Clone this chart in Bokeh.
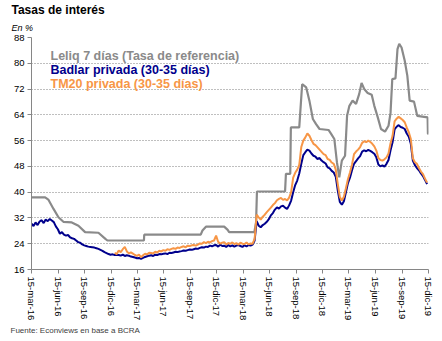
import pandas as pd
from bokeh.plotting import figure
from bokeh.models import FixedTicker, Label, Range1d, Title
from bokeh.embed import file_html
from bokeh.resources import INLINE

# ---------------- data ----------------
badlar_start = "2016-03-15"   # weekly observations
badlar = [
    30.2, 29.5, 30.6, 29.8, 30.9, 31.3, 30.4, 31.5, 31.0, 31.7,
    31.2, 30.7, 29.4, 28.5, 27.1, 27.6, 26.8, 26.5, 26.7, 26.0,
    25.7, 25.5, 25.0, 24.5, 24.3, 23.8, 23.5, 23.3, 23.1, 23.0,
    22.9, 22.8, 22.6, 22.4, 22.1, 21.8, 21.4, 21.1, 20.8, 20.6,
    20.7, 20.5, 20.6, 20.5, 20.3, 20.6, 20.2, 20.4, 20.3, 20.0,
    19.9, 19.7, 19.5, 19.6, 19.3, 19.6, 19.9, 20.1, 20.3, 20.4,
    20.2, 20.6, 20.5, 20.8, 20.7, 20.9, 21.0, 20.8, 21.2, 21.1,
    21.3, 21.5, 21.4, 21.6, 21.7, 21.9, 21.8, 22.0, 22.2, 22.1,
    22.3, 22.5, 22.4, 22.7, 22.9, 22.8, 23.1, 23.0, 23.4, 23.2,
    23.5, 23.6, 23.1, 23.7, 23.3, 23.4, 23.0, 23.6, 23.2, 23.5,
    23.1, 23.4, 23.6, 23.3, 23.0, 23.5, 23.2, 23.6, 23.4, 23.7,
    25.0, 31.0, 29.6, 29.1, 29.8, 30.2, 30.8, 31.6, 32.8, 33.5,
    34.6, 35.3, 34.9, 35.6, 35.8, 35.2, 34.8, 35.9, 37.4, 40.0,
    42.2, 43.6, 45.8, 48.8, 51.5, 52.4, 53.2, 52.9, 52.0, 51.3,
    51.0, 50.3, 50.6, 49.8, 49.3, 48.9, 47.7, 47.4, 46.6, 46.1,
    44.8, 40.5, 37.0, 36.1, 37.2, 40.0, 42.8, 44.5, 46.8, 48.8,
    49.6, 50.5, 51.2, 52.6, 53.0, 52.7, 53.1, 52.8, 52.4, 51.9,
    50.8, 48.6, 48.0, 48.3, 47.9, 48.8, 50.0, 53.0, 55.5, 59.5,
    60.3, 60.8, 60.2, 60.0, 59.6, 58.2, 57.2, 55.0, 49.8, 48.4,
    47.5, 46.8, 45.8, 45.0, 43.8, 42.5,
]

tm20_start = "2016-12-27"     # weekly observations
tm20 = [
    21.2, 20.8, 21.9, 21.4, 22.3, 23.0, 21.6, 21.0, 21.3,
    20.9, 20.5, 20.2, 20.6, 19.8, 20.4, 20.9, 20.7, 21.2, 21.1,
    21.0, 21.5, 21.3, 21.8, 21.6, 22.0, 21.8, 22.3, 22.1, 22.4,
    22.6, 22.4, 22.8, 22.7, 23.0, 23.2, 22.9, 23.4, 23.3, 23.5,
    23.6, 23.4, 23.7, 24.1, 24.0, 24.5, 24.2, 24.6, 24.4, 24.8,
    25.0, 26.5, 24.6, 24.0, 24.3, 24.5, 23.8, 24.2, 24.0, 24.4,
    23.9, 24.2, 23.7, 24.3, 24.0, 23.9, 24.4, 23.8, 24.1, 24.0,
    25.5, 33.0, 32.2, 31.5, 32.4, 33.0, 33.8, 34.5, 35.2, 36.0,
    36.6, 37.5, 37.9, 38.2, 37.6, 37.9, 37.4, 38.3, 40.0, 44.5,
    46.0, 47.0, 48.5, 54.0, 56.0, 57.0, 58.2, 57.5, 56.2, 55.0,
    54.6, 53.9, 53.2, 52.5, 51.8, 51.5, 50.3, 50.0, 49.2, 48.8,
    47.0, 42.5, 38.5, 37.4, 38.6, 41.2, 44.0, 46.1, 48.5, 51.8,
    52.6, 53.2, 54.0, 55.3, 55.8, 55.5, 56.0, 55.6, 55.0, 54.2,
    52.9, 50.6, 50.0, 49.8, 50.2, 50.8, 52.0, 55.2, 57.5, 62.0,
    62.8, 63.4, 62.9, 62.4, 61.7, 60.0, 58.6, 56.5, 50.5, 49.3,
    48.8, 47.5, 46.4, 45.6, 44.2, 43.0,
]

leliq_dates = [
    "2016-03-15", "2016-05-01", "2016-05-12", "2016-05-30", "2016-06-16",
    "2016-07-03", "2016-08-01", "2016-08-24", "2016-09-16", "2016-11-01",
    "2016-11-25", "2016-12-02", "2017-04-07", "2017-04-08", "2017-10-20",
    "2017-10-26", "2017-11-07", "2018-01-09", "2018-01-21", "2018-01-26",
    "2018-04-23", "2018-04-29", "2018-05-02", "2018-08-07", "2018-08-10",
    "2018-08-25", "2018-08-27", "2018-09-25", "2018-10-05", "2018-10-19",
    "2018-10-30", "2018-11-11", "2018-11-22", "2018-12-04", "2019-01-04",
    "2019-01-13", "2019-01-24", "2019-02-02", "2019-02-10", "2019-02-19",
    "2019-03-02", "2019-03-09", "2019-03-17", "2019-03-28", "2019-04-09",
    "2019-04-20", "2019-04-28", "2019-05-07", "2019-05-19", "2019-06-02",
    "2019-06-11", "2019-06-23", "2019-07-04", "2019-07-18", "2019-07-30",
    "2019-08-06", "2019-08-12", "2019-08-23", "2019-08-30", "2019-09-05",
    "2019-09-13", "2019-09-24", "2019-10-03", "2019-10-11", "2019-10-26",
    "2019-11-06", "2019-12-12", "2019-12-13", "2019-12-15",
]
leliq = [
    38.4, 38.4, 37.7, 34.8, 32.2,
    30.8, 30.6, 29.6, 27.6, 27.4,
    25.5, 25.0, 25.0, 26.8, 26.8,
    28.1, 29.3, 29.3, 28.3, 27.6,
    27.6, 30.7, 40.2, 40.2, 45.7,
    45.7, 60.1, 60.1, 73.5, 72.5,
    68.4, 62.7, 61.1, 59.6, 59.3,
    58.1, 56.5, 49.3, 44.6, 49.8,
    51.3, 63.7, 66.8, 68.4, 67.4,
    70.5, 73.9, 72.0, 70.8, 70.2,
    66.8, 63.2, 59.6, 58.8, 60.6,
    64.6, 75.1, 75.3, 84.4, 86.0,
    84.9, 80.8, 76.1, 68.4, 68.1,
    63.7, 63.2, 58.1, 58.1,
]

tick_dates = [
    "2016-03-15", "2016-06-15", "2016-09-15", "2016-12-15",
    "2017-03-15", "2017-06-15", "2017-09-15", "2017-12-15",
    "2018-03-15", "2018-06-15", "2018-09-15", "2018-12-15",
    "2019-03-15", "2019-06-15", "2019-09-15", "2019-12-15",
]
tick_labels = [
    "15-mar-16", "15-jun-16", "15-sep-16", "15-dic-16",
    "15-mar-17", "15-jun-17", "15-sep-17", "15-dic-17",
    "15-mar-18", "15-jun-18", "15-sep-18", "15-dic-18",
    "15-mar-19", "15-jun-19", "15-sep-19", "15-dic-19",
]
y_ticks = [16, 24, 32, 40, 48, 56, 64, 72, 80, 88]

series_names = [
    "Leliq 7 días (Tasa de referencia)",
    "Badlar privada (30-35 días)",
    "TM20 privada (30-35 días)",
]

# ---------------- styles ----------------
GRAY = "#8a8a8a"
NAVY = "#00008c"
ORANGE = "#F79646"
FONT = "Liberation Sans"

badlar_x = pd.date_range(badlar_start, periods=len(badlar), freq="7D")
tm20_x = pd.date_range(tm20_start, periods=len(tm20), freq="7D")
leliq_x = pd.to_datetime(leliq_dates)

tick_ms = [int(pd.Timestamp(d).timestamp() * 1000) for d in tick_dates]

p = figure(
    width=442, height=341,
    x_axis_type="datetime",
    x_range=Range1d(pd.Timestamp(tick_dates[0]), pd.Timestamp(tick_dates[-1])),
    y_range=Range1d(y_ticks[0], y_ticks[-1]),
    toolbar_location=None, output_backend="svg",
    min_border_left=31, min_border_right=14,
    min_border_top=37, min_border_bottom=72,
)
p.outline_line_color = None
p.background_fill_color = "white"
p.border_fill_color = "white"

p.line(leliq_x, leliq, line_color=GRAY, line_width=2.2)
p.line(badlar_x, badlar, line_color=NAVY, line_width=2)
p.line(tm20_x, tm20, line_color=ORANGE, line_width=2)

# axes
p.yaxis.ticker = FixedTicker(ticks=y_ticks)
p.xaxis.ticker = FixedTicker(ticks=tick_ms)
p.xaxis.major_label_overrides = {t: l for t, l in zip(tick_ms, tick_labels)}
p.xaxis.major_label_orientation = "vertical"
for ax in (p.xaxis[0], p.yaxis[0]):
    ax.axis_line_color = "#868686"
    ax.major_tick_line_color = "#868686"
    ax.major_tick_out = 4
    ax.major_tick_in = 0
    ax.minor_tick_line_color = None
    ax.major_label_text_font = FONT
    ax.major_label_text_font_size = "9.5px"
    ax.major_label_text_color = "#000000"
    ax.major_label_standoff = 3

p.xgrid.grid_line_color = None
p.ygrid.grid_line_color = "#7f7f7f"
p.ygrid.grid_line_dash = "1 2"
p.ygrid.grid_line_width = 1

# titles and source (layout panels)
p.add_layout(Title(text="En %", text_font=FONT, text_font_style="italic",
                   text_font_size="9px", text_color="#000000",
                   align="left", offset=-20, standoff=9), "above")
p.add_layout(Title(text="Tasas de interés", text_font=FONT,
                   text_font_style="bold", text_font_size="12px",
                   text_color="#000000", align="left", offset=-20,
                   standoff=0), "above")
p.add_layout(Title(text="Fuente: Econviews en base a BCRA", text_font=FONT,
                   text_font_style="normal", text_font_size="8px",
                   text_color="#404040", align="left", offset=-21,
                   standoff=0), "below")

# legend texts (screen units, origin at frame bottom-left)
for name, col, yy in zip(series_names, [GRAY, NAVY, ORANGE], [214, 200, 186]):
    p.add_layout(Label(x=19, y=yy, x_units="screen", y_units="screen",
                       text=name, text_font=FONT, text_font_style="bold",
                       text_font_size="12.5px", text_color=col,
                       text_baseline="alphabetic"))

open("out.html", "w").write(file_html(p, INLINE))
